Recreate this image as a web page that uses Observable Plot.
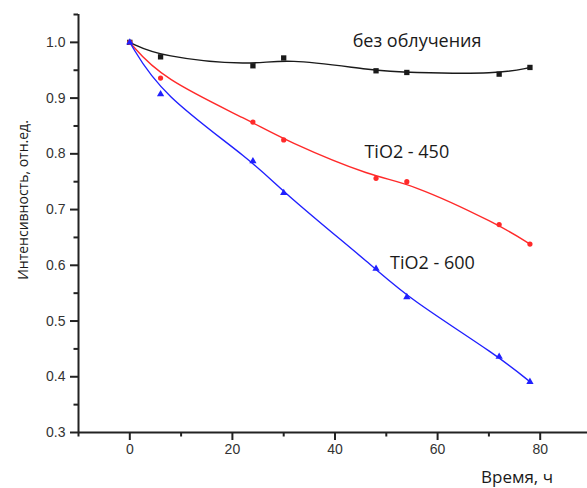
<!DOCTYPE html>
<html>
<head>
<meta charset="utf-8">
<script src="https://cdn.jsdelivr.net/npm/d3@7"></script>
<script src="https://cdn.jsdelivr.net/npm/@observablehq/plot@0.6"></script>
<style>
  html, body { margin: 0; padding: 0; background: #fff; }
  #chart svg { display: block; }
</style>
</head>
<body>
<div id="chart"></div>
<script>
// Time, hours
const hours = [0, 6, 24, 30, 48, 54, 72, 78];
// Relative intensity values
const noIrradiation = [1.0, 0.974, 0.958, 0.972, 0.949, 0.946, 0.943, 0.955];
const tio2_450 = [1.0, 0.936, 0.857, 0.825, 0.756, 0.750, 0.673, 0.638];
const tio2_600 = [1.0, 0.907, 0.787, 0.730, 0.594, 0.543, 0.436, 0.391];

const seriesNames = ["без облучения", "TiO2 - 450", "TiO2 - 600"];
const seriesValues = [noIrradiation, tio2_450, tio2_600];
const seriesColors = ["#1a1a1a", "#ff2a2a", "#2020ff"];
const seriesSymbols = ["square", "circle", "triangle"];

// Label anchors (data coords)
const labelX = [56, 54, 59];
const labelY = [0.992, 0.792, 0.593];

const xMajor = [0, 20, 40, 60, 80];
const xMinor = [-10, 10, 30, 50, 70, 90];
const yMajor = [0.3, 0.4, 0.5, 0.6, 0.7, 0.8, 0.9, 1.0];
const yMinor = [0.35, 0.45, 0.55, 0.65, 0.75, 0.85, 0.95, 1.05];

const xTitle = "Время, ч";
const yTitle = "Интенсивность, отн.ед.";

const rows = [];
seriesNames.forEach((name, i) => {
  hours.forEach((h, j) => rows.push({series: name, t: h, v: seriesValues[i][j]}));
});
const labels = seriesNames.map((name, i) => ({series: name, x: labelX[i], y: labelY[i]}));

const axisColor = "#222";
const tickFont = "Liberation Sans, Arial, sans-serif";

const marks = [];
seriesNames.forEach((name, i) => {
  const d = rows.filter(r => r.series === name);
  marks.push(Plot.line(d, {x: "t", y: "v", curve: "basis", stroke: seriesColors[i], strokeWidth: 1.4}));
  marks.push(Plot.dot(d, {x: "t", y: "v", symbol: () => seriesSymbols[i], fill: seriesColors[i], stroke: "none",
    r: seriesSymbols[i] === "circle" ? 2.6 : (seriesSymbols[i] === "triangle" ? 2.7 : 3.0)}));
});
marks.push(Plot.text(labels, {x: "x", y: "y", text: "series", textAnchor: "middle", lineAnchor: "bottom",
  fontSize: 18, fontFamily: "Open Sans, sans-serif", fill: "#1a1a1a"}));

// axes
marks.push(Plot.axisY(yMajor, {tickSize: 8, tickPadding: 5, tickFormat: d3.format(".1f"), fontSize: 14,
  fontFamily: tickFont, color: "#333", stroke: axisColor, strokeWidth: 2, label: null}));
marks.push(Plot.axisY(yMinor, {tickSize: 4.5, tickFormat: () => "", stroke: axisColor, strokeWidth: 2, label: null}));
marks.push(Plot.axisX(xMajor, {tickSize: 8, tickPadding: 4, fontSize: 14, fontFamily: tickFont, color: "#333",
  stroke: axisColor, strokeWidth: 2, label: null}));
marks.push(Plot.axisX(xMinor, {tickSize: 4.5, tickFormat: () => "", stroke: axisColor, strokeWidth: 2, label: null}));
marks.push(Plot.ruleX([-10], {stroke: axisColor, strokeWidth: 2}));
marks.push(Plot.ruleY([0.3], {stroke: axisColor, strokeWidth: 2}));

const chart = Plot.plot({
  width: 587,
  height: 488,
  marginLeft: 78,
  marginTop: 14,
  marginBottom: 56,
  marginRight: 0,
  x: {domain: [-10, 90], range: [78, 591]},
  y: {domain: [0.3, 1.05], range: [432, 14]},
  style: {background: "#fff", overflow: "hidden"},
  marks
});

// axis titles as SVG text
const svg = d3.select(chart);
svg.append("text")
  .attr("x", 517).attr("y", 483)
  .attr("text-anchor", "middle")
  .attr("font-family", "Open Sans, sans-serif")
  .attr("font-size", 17)
  .attr("fill", "#1a1a1a")
  .text(xTitle);
svg.append("text")
  .attr("transform", "translate(28,200) rotate(-90)")
  .attr("text-anchor", "middle")
  .attr("font-family", "Open Sans, sans-serif")
  .attr("font-size", 14)
  .attr("fill", "#1a1a1a")
  .text(yTitle);

document.getElementById("chart").appendChild(chart);
</script>
</body>
</html>
